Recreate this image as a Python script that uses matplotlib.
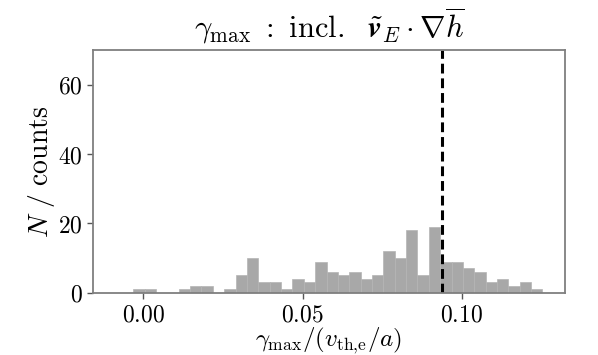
import matplotlib
matplotlib.use("Agg")
import matplotlib.pyplot as plt
import numpy as np

plt.rcParams['mathtext.fontset'] = 'cm'
plt.rcParams['font.family'] = ['DejaVu Serif']

# Histogram data
bin_start = -0.00314
bin_width = 0.003567
counts = [1, 1, 0, 0, 1, 2, 2, 0, 1, 5, 10, 3, 3, 1, 4, 3, 9, 6, 5, 6,
          4, 5, 12, 10, 18, 5, 19, 9, 9, 7, 6, 3, 4, 2, 3, 1]
vline_x = 0.0939
xticks = [0.00, 0.05, 0.10]
xtick_labels = [r'$0.00$', r'$0.05$', r'$0.10$']
yticks = [0, 20, 40, 60]
ytick_labels = [r'$0$', r'$20$', r'$40$', r'$60$']

lefts = bin_start + bin_width * np.arange(len(counts))

fig = plt.figure(figsize=(5.98, 3.55), dpi=100)
ax = fig.add_axes([0.156, 0.1755, 0.788, 0.683])

ax.bar(lefts, counts, width=bin_width, align='edge', color='#a8a8a8',
       edgecolor='#b4b4b4', linewidth=0.5)
ax.axvline(vline_x, color='black', linestyle=(0, (3.2, 1.6)), linewidth=2.2)

ax.set_xlim(-0.0157, 0.1322)
ax.set_ylim(0, 70)
ax.set_xticks(xticks)
ax.set_xticklabels(xtick_labels)
ax.set_yticks(yticks)
ax.set_yticklabels(ytick_labels)

for s in ax.spines.values():
    s.set_color('#7f7f7f')
    s.set_linewidth(1.3)
ax.tick_params(axis='both', colors='#555555', labelcolor='black',
               labelsize=17, length=4, width=1.0, direction='out')

ax.set_xlabel(r'$\gamma_{\max}/(v_{\mathrm{th{,}e}}/a)$', fontsize=18, labelpad=-1)
ax.set_ylabel(r'$N\ /\ \mathrm{counts}$', fontsize=20, labelpad=1)
ax.set_title(r'$\gamma_{\max}\ :\ \mathrm{incl.}\ \ \tilde{\boldsymbol{v}}_E \cdot \nabla \overline{h}$',
             fontsize=22, pad=9)

fig.savefig('out.png', dpi=100)
